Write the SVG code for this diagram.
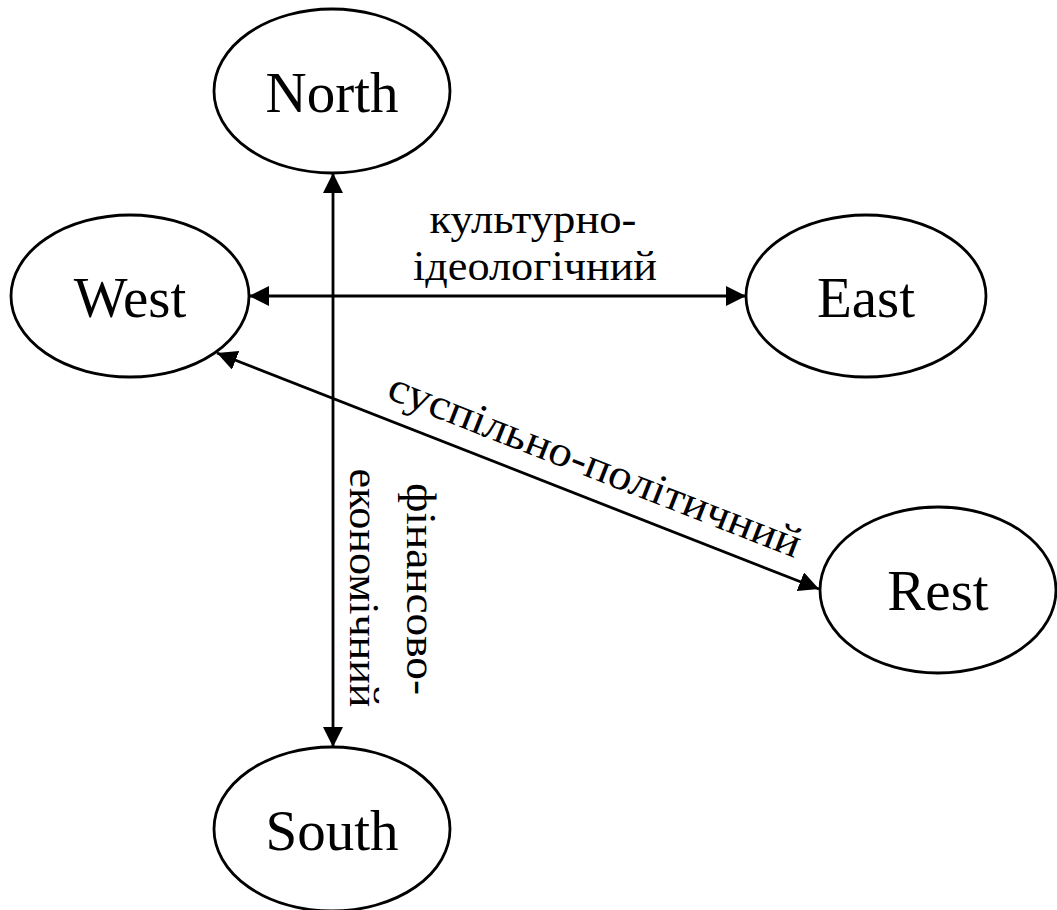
<svg xmlns="http://www.w3.org/2000/svg" width="1057" height="910" viewBox="0 0 1057 910">
<style>
.node ellipse{fill:#fff;stroke:#000;stroke-width:2.8}
.node text{font-family:"Liberation Serif","Times New Roman",serif;font-size:57px;text-anchor:middle;fill:#000}
.edge{stroke:#000;stroke-width:2.8;fill:none;marker-start:url(#ah);marker-end:url(#ah)}
.lbl{font-family:"Liberation Serif","Times New Roman",serif;font-size:43px;fill:#000;text-anchor:middle}
</style>
<defs>
<marker id="ah" markerUnits="userSpaceOnUse" markerWidth="20" markerHeight="20" refX="20" refY="10" orient="auto-start-reverse" viewBox="0 0 20 20">
<path d="M0,0 L20,10 L0,20 z" fill="#000"/>
</marker>
</defs>
<rect width="1057" height="910" fill="#fff"/>
<g id="connectors">
<line class="edge" x1="333" y1="173" x2="333" y2="747"/>
<line class="edge" x1="249" y1="296" x2="746" y2="296"/>
<line class="edge" x1="217" y1="353" x2="819" y2="589"/>
<text class="lbl" x="533" y="233" textLength="207" lengthAdjust="spacingAndGlyphs">культурно-</text>
<text class="lbl" x="535" y="280" textLength="244" lengthAdjust="spacingAndGlyphs">ідеологічний</text>
<text class="lbl" transform="translate(590,478) rotate(21.4)" textLength="440" lengthAdjust="spacingAndGlyphs">суспільно-політичний</text>
<text class="lbl" transform="translate(407,589) rotate(90)" textLength="212" lengthAdjust="spacingAndGlyphs">фінансово-</text>
<text class="lbl" transform="translate(350,588) rotate(90)" textLength="239" lengthAdjust="spacingAndGlyphs">економічний</text>
</g>
<g id="north" class="node"><ellipse cx="332" cy="91" rx="118" ry="82"/><text x="332" y="112">North</text></g>
<g id="west" class="node"><ellipse cx="130" cy="296" rx="119" ry="81"/><text x="130" y="317">West</text></g>
<g id="east" class="node"><ellipse cx="866" cy="296" rx="120" ry="81"/><text x="866" y="317">East</text></g>
<g id="rest" class="node"><ellipse cx="938" cy="590" rx="118" ry="83"/><text x="938" y="610">Rest</text></g>
<g id="south" class="node"><ellipse cx="332" cy="829" rx="118" ry="82"/><text x="332" y="850">South</text></g>
</svg>
